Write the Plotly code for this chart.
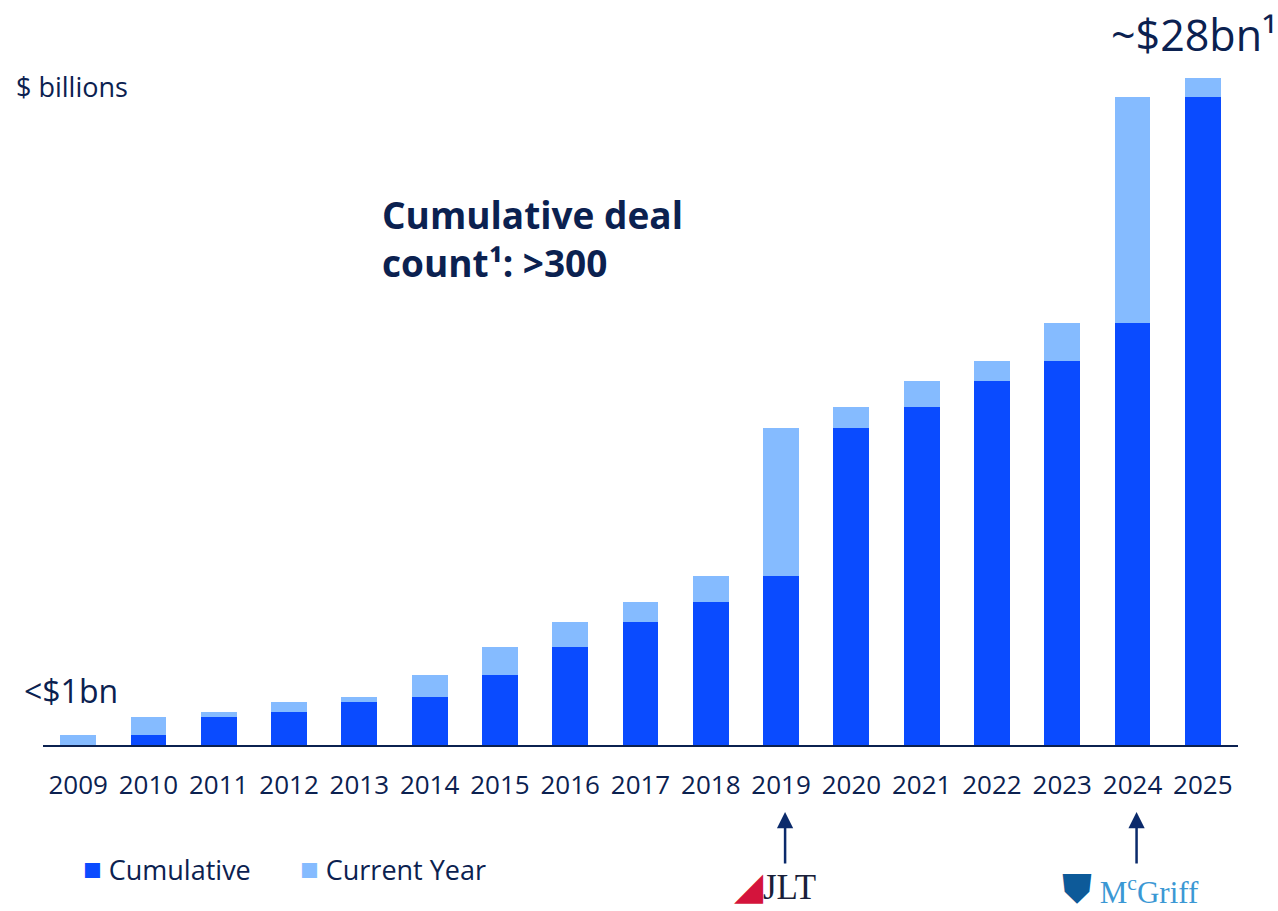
import plotly.graph_objects as go

# Deal value by year, $ billions
years = ["2009", "2010", "2011", "2012", "2013", "2014", "2015", "2016", "2017",
         "2018", "2019", "2020", "2021", "2022", "2023", "2024", "2025"]
cumulative = [0.0, 0.42, 1.18, 1.39, 1.81, 2.02, 2.94, 4.12, 5.16,
              6.0, 7.1, 13.3, 14.2, 15.3, 16.1, 17.7, 27.2]
current_year = [0.42, 0.76, 0.21, 0.42, 0.21, 0.92, 1.18, 1.04, 0.84,
                1.1, 6.2, 0.9, 1.1, 0.8, 1.6, 9.5, 0.8]

NAVY = "#0B2150"
DARK_BLUE = "#0A4BFF"
LIGHT_BLUE = "#85BBFF"
FONT = "Open Sans"

fig = go.Figure()
fig.add_bar(x=years, y=cumulative, name="Cumulative", marker_color=DARK_BLUE,
            marker_line_width=0)
fig.add_bar(x=years, y=current_year, name="Current Year", marker_color=LIGHT_BLUE,
            marker_line_width=0)

plot_top, plot_bottom = 60, 745
H, W = 911, 1278
ymax = 28 * (plot_bottom - plot_top) / (plot_bottom - 78)

def py(pixel_y):
    # convert a page pixel row to paper coordinates
    return (plot_bottom - pixel_y) / (plot_bottom - plot_top)

def px(pixel_x):
    return (pixel_x - 43) / (1238 - 43)

square = '<span style="color:{c};font-size:31px">■</span> '

annotations = [
    dict(text="$ billions", x=px(14), y=py(86), xanchor="left", yanchor="middle",
         font=dict(size=27, color=NAVY)),
    dict(text="<$1bn", x=px(22), y=py(690), xanchor="left", yanchor="middle",
         font=dict(size=32, color=NAVY)),
    dict(text="~$28bn¹", x=px(1109), y=py(35), xanchor="left", yanchor="middle",
         font=dict(size=43, color=NAVY)),
    dict(text="<b>Cumulative deal</b><br><b>count¹: >300</b>", x=px(380), y=py(239),
         xanchor="left", yanchor="middle", align="left",
         font=dict(size=37, color=NAVY)),
    dict(text=square.format(c=DARK_BLUE) + "Cumulative", x=px(81), y=py(868),
         xanchor="left", yanchor="middle", font=dict(size=27, color=NAVY)),
    dict(text=square.format(c=LIGHT_BLUE) + "Current Year", x=px(298), y=py(868),
         xanchor="left", yanchor="middle", font=dict(size=27, color=NAVY)),
    # acquisition markers
    dict(x=years.index("2019"), y=py(812), xref="x", yref="paper", text="", showarrow=True,
         axref="pixel", ayref="pixel", ax=0, ay=53, xshift=4,
         arrowhead=2, arrowsize=1.3, arrowwidth=2.5, arrowcolor="#0B2A6B"),
    dict(x=years.index("2024"), y=py(812), xref="x", yref="paper", text="", showarrow=True,
         axref="pixel", ayref="pixel", ax=0, ay=53, xshift=4,
         arrowhead=2, arrowsize=1.3, arrowwidth=2.5, arrowcolor="#0B2A6B"),
    dict(text='<span style="color:#D4143C;font-size:38px">◢</span>JLT', x=px(775), y=py(886),
         xanchor="center", yanchor="middle",
         font=dict(size=35, color="#1A1F3A", family="Liberation Serif")),
    dict(text='<span style="color:#0D5A99;font-size:40px">⛊</span> M<sup>c</sup>Griff',
         x=px(1130), y=py(889), xanchor="center", yanchor="middle",
         font=dict(size=31, color="#3B98D4", family="Liberation Serif")),
]
for a in annotations:
    a.setdefault("xref", "paper")
    a.setdefault("yref", "paper")
    a.setdefault("showarrow", False)

fig.update_layout(
    barmode="stack",
    bargap=0.49,
    width=W, height=H,
    margin=dict(l=43, r=W - 1238, t=plot_top, b=H - plot_bottom),
    paper_bgcolor="white", plot_bgcolor="white",
    font=dict(family=FONT, color=NAVY),
    showlegend=False,
    annotations=annotations,
    xaxis=dict(type="category", range=[-0.5, len(years) - 0.5], autorange=False,
               showline=True, linecolor=NAVY, linewidth=2, ticks="",
               tickfont=dict(size=26, color=NAVY), ticklabelstandoff=16,
               showgrid=False, zeroline=False),
    yaxis=dict(range=[0, ymax], visible=False, showgrid=False, zeroline=False),
)

fig.write_html("out.html")
